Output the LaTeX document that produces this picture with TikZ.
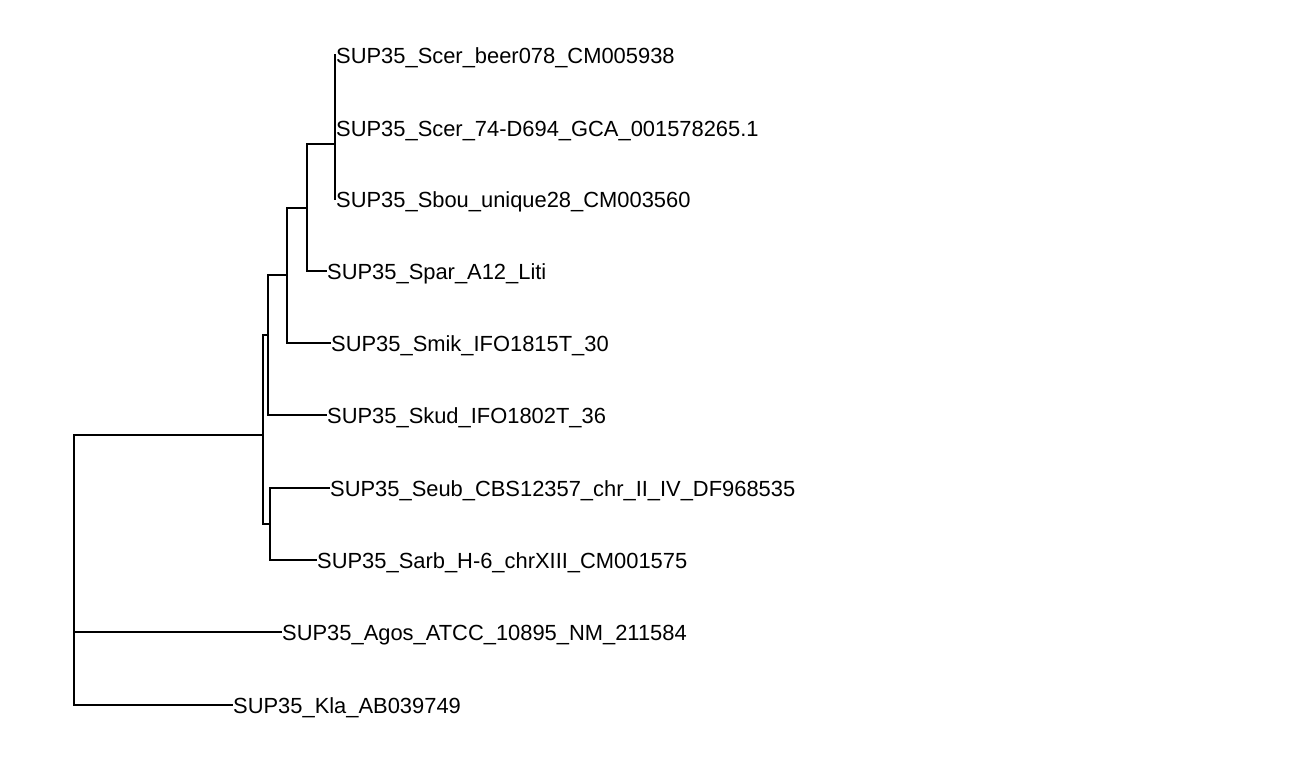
\documentclass[tikz,border=0pt]{standalone}
\usepackage{fontspec}
\setmainfont{Liberation Sans}
\begin{document}
\begin{tikzpicture}[x=1pt,y=-1pt,
  br/.style={line width=1.7pt, line cap=rect},
  lab/.style={anchor=base west, inner sep=0pt, xshift=1pt, yshift=-8.3pt, font=\fontsize{21.9}{24}\selectfont}]
\fill[white] (0,0) rectangle (1308,765);
\useasboundingbox (0,0) rectangle (1308,765);
% tips
\coordinate (l1) at (335,55);
\coordinate (l2) at (335,128);
\coordinate (l3) at (335,199);
\coordinate (l4) at (326,271);
\coordinate (l5) at (330,343);
\coordinate (l6) at (326,415);
\coordinate (l7) at (329,488);
\coordinate (l8) at (316,560);
\coordinate (l9) at (281,632);
\coordinate (l10) at (232,705);
% internal nodes
\coordinate (nD) at (335,144);
\coordinate (nC) at (307,208);
\coordinate (nB) at (287,275);
\coordinate (nA) at (268,335);
\coordinate (nE) at (270,524);
\coordinate (nI) at (263,435);
\coordinate (nR) at (74,570);
% branches
\draw[br] (l1) -| (nD) |- (l3);
\draw[br] (nD |- l2) -- (l2);
\draw[br] (nD) -| (nC) |- (l4);
\draw[br] (nC) -| (nB) |- (l5);
\draw[br] (nB) -| (nA) |- (l6);
\draw[br] (l7) -| (nE) |- (l8);
\draw[br] (nA) -| (nI) |- (nE);
\draw[br] (nI) -| (nR) |- (l10);
\draw[br] (nR |- l9) -- (l9);
% labels
\node[lab] (t1) at (l1) {SUP35\_Scer\_beer078\_CM005938};
\node[lab] (t2) at (l2) {SUP35\_Scer\_74-D694\_GCA\_001578265.1};
\node[lab] (t3) at (l3) {SUP35\_Sbou\_unique28\_CM003560};
\node[lab] (t4) at (l4) {SUP35\_Spar\_A12\_Liti};
\node[lab] (t5) at (l5) {SUP35\_Smik\_IFO1815T\_30};
\node[lab] (t6) at (l6) {SUP35\_Skud\_IFO1802T\_36};
\node[lab] (t7) at (l7) {SUP35\_Seub\_CBS12357\_chr\_II\_IV\_DF968535};
\node[lab] (t8) at (l8) {SUP35\_Sarb\_H-6\_chrXIII\_CM001575};
\node[lab] (t9) at (l9) {SUP35\_Agos\_ATCC\_10895\_NM\_211584};
\node[lab] (t10) at (l10) {SUP35\_Kla\_AB039749};
\end{tikzpicture}
\end{document}
